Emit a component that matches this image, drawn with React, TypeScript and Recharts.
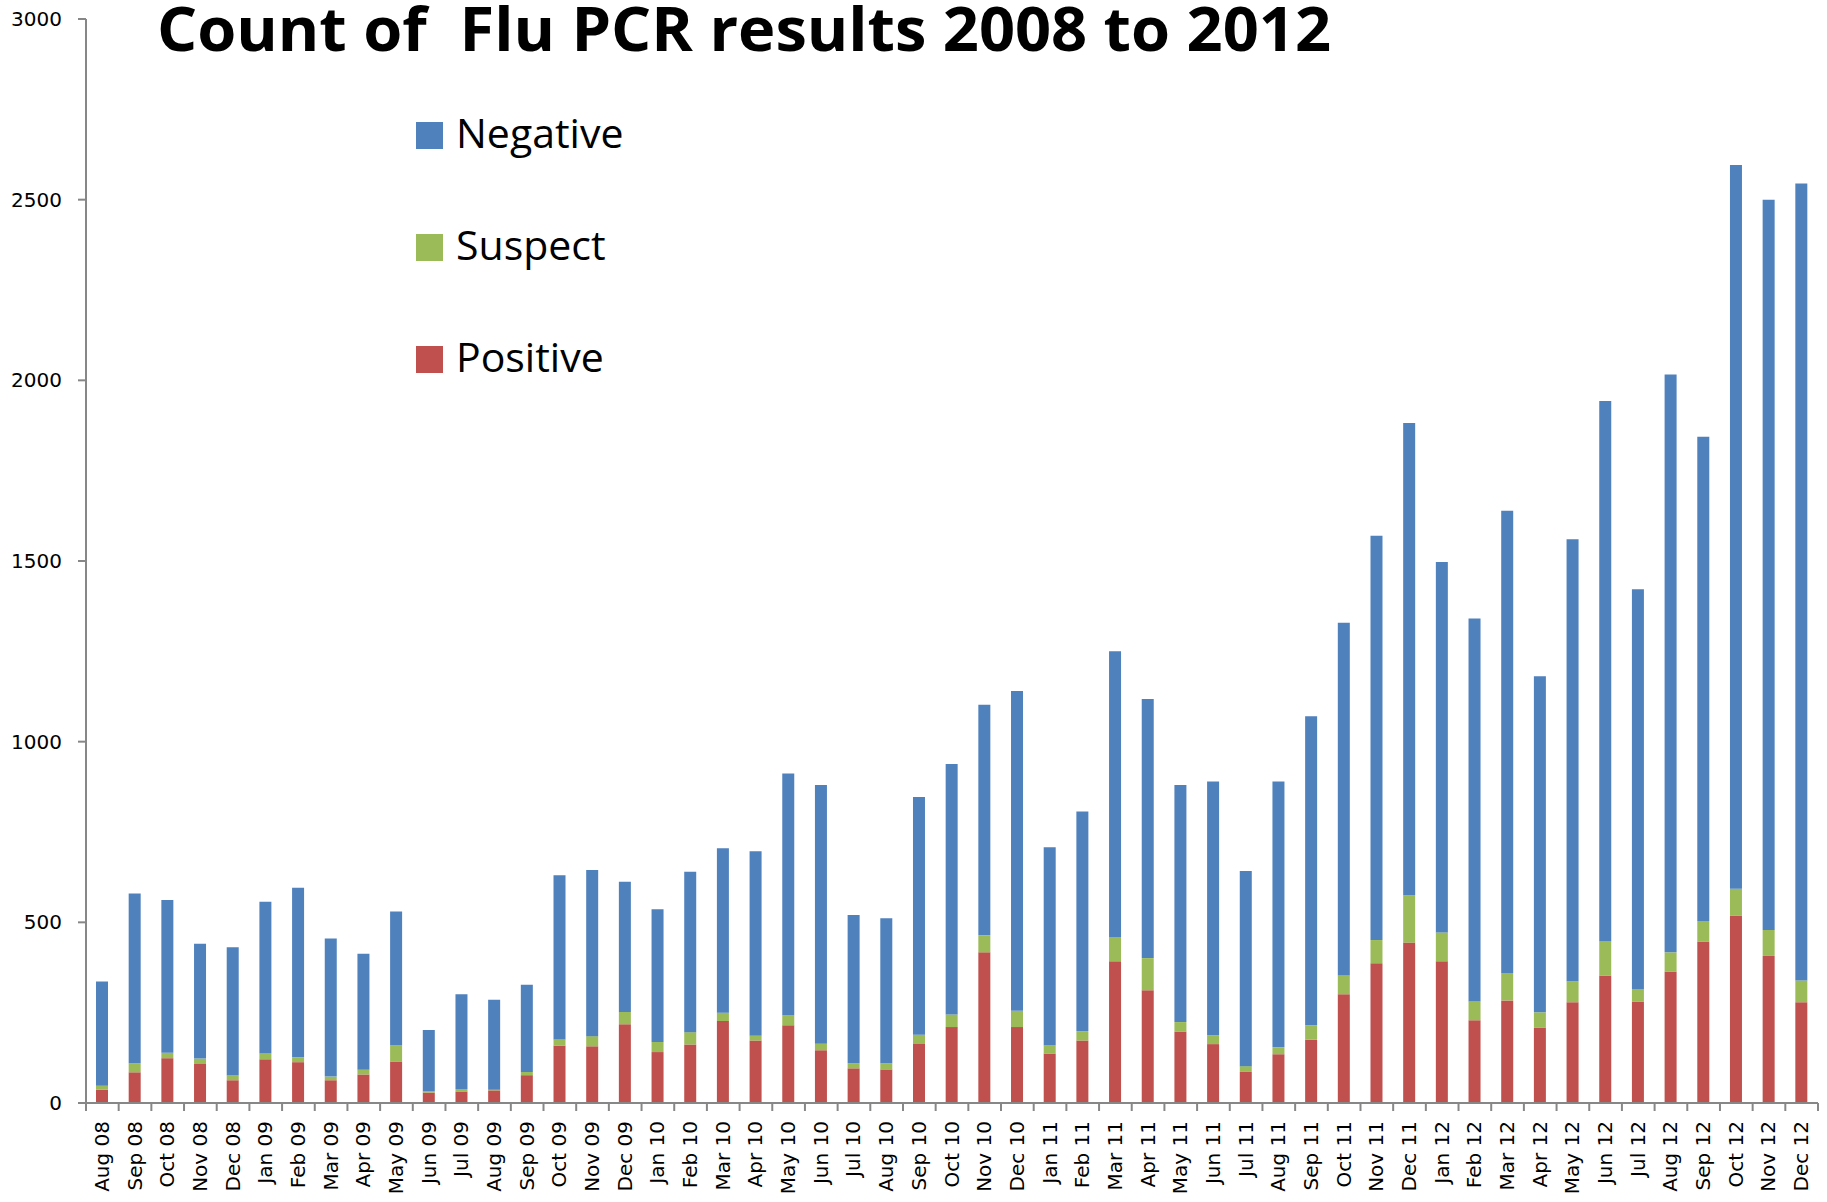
import React from 'react';
import { BarChart, Bar, XAxis, YAxis } from 'recharts';

const months = [
  'Aug 08','Sep 08','Oct 08','Nov 08','Dec 08',
  'Jan 09','Feb 09','Mar 09','Apr 09','May 09','Jun 09','Jul 09','Aug 09','Sep 09','Oct 09','Nov 09','Dec 09',
  'Jan 10','Feb 10','Mar 10','Apr 10','May 10','Jun 10','Jul 10','Aug 10','Sep 10','Oct 10','Nov 10','Dec 10',
  'Jan 11','Feb 11','Mar 11','Apr 11','May 11','Jun 11','Jul 11','Aug 11','Sep 11','Oct 11','Nov 11','Dec 11',
  'Jan 12','Feb 12','Mar 12','Apr 12','May 12','Jun 12','Jul 12','Aug 12','Sep 12','Oct 12','Nov 12','Dec 12',
];

const positive = [
  37, 85, 124, 108, 63,
  121, 113, 63, 79, 115, 29, 32, 35, 77, 159, 157, 218,
  141, 162, 227, 173, 215, 146, 96, 93, 165, 210, 417, 210,
  137, 173, 392, 312, 198, 163, 86, 135, 175, 301, 387, 444,
  392, 229, 284, 208, 279, 353, 281, 363, 446, 519, 407, 279,
];

const suspect = [
  11, 24, 15, 15, 14,
  17, 14, 10, 13, 44, 3, 7, 2, 9, 17, 28, 34,
  28, 34, 23, 13, 27, 18, 13, 16, 24, 35, 47, 45,
  22, 26, 66, 89, 26, 25, 16, 19, 40, 52, 64, 130,
  80, 52, 76, 43, 57, 94, 34, 54, 58, 74, 72, 60,
];

const negative = [
  288, 471, 423, 318, 354,
  419, 469, 382, 321, 371, 170, 262, 249, 241, 454, 460, 360,
  367, 444, 455, 511, 670, 716, 411, 402, 658, 693, 638, 885,
  549, 608, 792, 717, 656, 702, 540, 736, 855, 976, 1119, 1308,
  1025, 1060, 1279, 930, 1224, 1496, 1107, 1599, 1340, 2003, 2021, 2206,
];

const yTicks = [0, 500, 1000, 1500, 2000, 2500, 3000];
const title = 'Count of  Flu PCR results 2008 to 2012';
const seriesNames = ['Positive', 'Suspect', 'Negative'];
const seriesColors = ['#C0504D', '#9BBB59', '#4F81BD'];

const data = months.map((m, i) => ({
  month: m,
  Positive: positive[i],
  Suspect: suspect[i],
  Negative: negative[i],
}));

const W = 1827;
const H = 1202;
const PLOT_LEFT = 86;
const PLOT_RIGHT = 1818;
const PLOT_TOP = 19;
const PLOT_BOTTOM = 1103;
const BAND = (PLOT_RIGHT - PLOT_LEFT) / months.length;
const AXIS_COLOR = '#878787';

const XTick = (props: any) => {
  const { x, y, payload, index } = props;
  const last = index === months.length - 1;
  return (
    <g>
      <line x1={x - BAND / 2} x2={x - BAND / 2} y1={y} y2={y + 8} stroke={AXIS_COLOR} strokeWidth={2} />
      {last && <line x1={x + BAND / 2} x2={x + BAND / 2} y1={y} y2={y + 8} stroke={AXIS_COLOR} strokeWidth={2} />}
      <text
        transform={`translate(${x + 6.5},${y + 18}) rotate(-90)`}
        textAnchor="end"
        fontSize={20}
        fontFamily="DejaVu Sans"
        fill="#000"
      >
        {payload.value}
      </text>
    </g>
  );
};

const legendOrder = [2, 1, 0];

export default function App() {
  return (
    <div style={{ position: 'absolute', left: 0, top: 0, width: W, height: H, background: '#fff' }}>
      <BarChart
        width={W}
        height={H}
        data={data}
        margin={{ top: PLOT_TOP, right: W - PLOT_RIGHT, bottom: 0, left: 0 }}
        barSize={12}
      >
        <XAxis
          dataKey="month"
          interval={0}
          height={H - PLOT_BOTTOM}
          tickLine={false}
          tickSize={0}
          tickMargin={0}
          tick={<XTick />}
          axisLine={{ stroke: AXIS_COLOR, strokeWidth: 2 }}
        />
        <YAxis
          width={PLOT_LEFT}
          domain={[0, 3000]}
          ticks={yTicks}
          interval={0}
          tickSize={8}
          tickMargin={16}
          tickLine={{ stroke: AXIS_COLOR, strokeWidth: 2 }}
          axisLine={{ stroke: AXIS_COLOR, strokeWidth: 2 }}
          tick={{ fontSize: 20, fontFamily: 'DejaVu Sans', fill: '#000' }}
        />
        {seriesNames.map((name, i) => (
          <Bar key={name} dataKey={name} stackId="a" fill={seriesColors[i]} isAnimationActive={false} />
        ))}
      </BarChart>
      <svg
        width={W}
        height={H}
        style={{ position: 'absolute', left: 0, top: 0, pointerEvents: 'none' }}
      >
        <text
          x={157}
          y={51}
          fontFamily="Open Sans"
          fontWeight={700}
          fontSize={60}
          textLength={1174}
          lengthAdjust="spacingAndGlyphs"
          style={{ whiteSpace: 'pre' }}
          fill="#000"
        >
          {title}
        </text>
        {legendOrder.map((si, k) => (
          <g key={seriesNames[si]}>
            <rect x={416} y={122 + k * 112} width={27} height={27} fill={seriesColors[si]} />
            <text x={456} y={148 + k * 112} fontFamily="Open Sans" fontSize={41} fill="#000">
              {seriesNames[si]}
            </text>
          </g>
        ))}
      </svg>
    </div>
  );
}
